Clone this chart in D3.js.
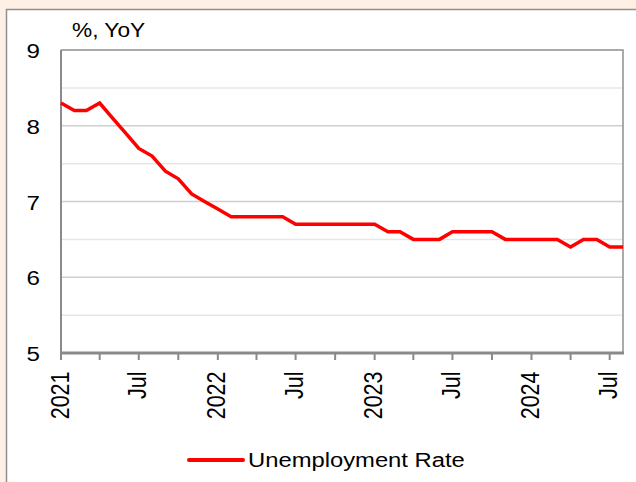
<!DOCTYPE html>
<html>
<head>
<meta charset="utf-8">
<script src="https://cdn.jsdelivr.net/npm/d3@7"></script>
<style>
  html, body { margin: 0; padding: 0; background: #FEF0E4; }
  svg { display: block; }
  text { font-family: "Liberation Sans", Arial, sans-serif; fill: #000; }
</style>
</head>
<body>
<svg id="chart" width="636" height="482"></svg>
<script>
// ---- data ----
const startMonth = new Date(2021, 0, 1);
const endMonth = new Date(2024, 7, 1);
const rate2021 = [8.3, 8.2, 8.2, 8.3, 8.1, 7.9, 7.7, 7.6, 7.4, 7.3, 7.1, 7.0];
const rate2022 = [6.9, 6.8, 6.8, 6.8, 6.8, 6.8, 6.7, 6.7, 6.7, 6.7, 6.7, 6.7];
const rate2023 = [6.7, 6.6, 6.6, 6.5, 6.5, 6.5, 6.6, 6.6, 6.6, 6.6, 6.5, 6.5];
const rate2024 = [6.5, 6.5, 6.5, 6.4, 6.5, 6.5, 6.4, 6.4];
const yTicks = [5, 6, 7, 8, 9];
const yMinor = [5.5, 6.5, 7.5, 8.5];
const seriesName = "Unemployment Rate";
const unitLabel = "%, YoY";

const values = [].concat(rate2021, rate2022, rate2023, rate2024);
const months = d3.timeMonth.range(startMonth, d3.timeMonth.offset(endMonth, 1));
const data = months.map((d, i) => ({ date: d, value: values[i] }));

// ---- layout ----
const svg = d3.select("#chart");
const L = 61, R = 623, T = 50, B = 353;
const SX = 1.15;

// outer white panel
svg.append("rect").attr("x", 6.5).attr("y", 9.5).attr("width", 640).attr("height", 480)
  .attr("fill", "#fff").attr("stroke", "#8f8f8f").attr("stroke-width", 1.5);

const x = d3.scaleTime().domain([startMonth, endMonth]).range([L, R]);
const y = d3.scaleLinear().domain([5, 9]).range([B, T]);

// gridlines
svg.append("g").selectAll("line").data(yMinor).join("line")
  .attr("x1", L).attr("x2", R).attr("y1", d => y(d)).attr("y2", d => y(d))
  .attr("stroke", "#e6e6e6").attr("stroke-width", 1.5);
svg.append("g").selectAll("line").data(yTicks.filter(d => d > 5 && d < 9)).join("line")
  .attr("x1", L).attr("x2", R).attr("y1", d => y(d)).attr("y2", d => y(d))
  .attr("stroke", "#cfcfcf").attr("stroke-width", 1.5);

// plot frame top/right
svg.append("path").attr("d", `M${L},${T}H${R}V${B}`)
  .attr("fill", "none").attr("stroke", "#8f8f8f").attr("stroke-width", 1.5);

// y axis line
svg.append("line").attr("x1", L).attr("x2", L).attr("y1", T).attr("y2", B)
  .attr("stroke", "#8a8a8a").attr("stroke-width", 2);

// y labels
svg.append("g").selectAll("text").data(yTicks).join("text")
  .attr("transform", d => `translate(40,${y(d) + 8}) scale(${SX},1)`)
  .attr("text-anchor", "end").attr("font-size", 21).text(d => d);

// unit label
svg.append("text").attr("transform", `translate(72,37) scale(1.08,1)`)
  .attr("font-size", 21).text(unitLabel);

// line
const line = d3.line().x(d => x(d.date)).y(d => y(d.value));
svg.append("path").datum(data).attr("d", line)
  .attr("fill", "none").attr("stroke", "#ff0000").attr("stroke-width", 3.5)
  .attr("stroke-linejoin", "miter");

// x axis
const tickDates = d3.timeMonth.every(3).range(startMonth, d3.timeMonth.offset(endMonth, 1));
svg.append("g").selectAll("line").data(tickDates).join("line")
  .attr("x1", d => x(d)).attr("x2", d => x(d)).attr("y1", B).attr("y2", B + 7)
  .attr("stroke", "#8a8a8a").attr("stroke-width", 2);
svg.append("line").attr("x1", L - 1).attr("x2", R + 1).attr("y1", B).attr("y2", B)
  .attr("stroke", "#8a8a8a").attr("stroke-width", 3);

const fmt = d => d.getMonth() === 0 ? d3.timeFormat("%Y")(d) : d3.timeFormat("%b")(d);
svg.append("g").selectAll("text").data(tickDates.filter(d => d.getMonth() % 6 === 0)).join("text")
  .attr("transform", d => `translate(${x(d) + 7.5},371.5) scale(1.16,1) rotate(-90)`)
  .attr("text-anchor", "end").attr("font-size", 21.5).text(fmt);

// legend
svg.append("line").attr("x1", 189).attr("x2", 243).attr("y1", 460).attr("y2", 460)
  .attr("stroke", "#ff0000").attr("stroke-width", 4).attr("stroke-linecap", "round");
svg.append("text").attr("transform", `translate(248,466.5) scale(1.19,1)`)
  .attr("font-size", 20).text(seriesName);
</script>
</body>
</html>
